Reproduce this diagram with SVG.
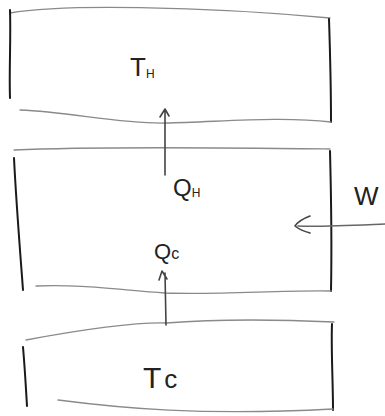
<svg xmlns="http://www.w3.org/2000/svg" width="385" height="416" viewBox="0 0 385 416">
<style>
.h{fill:none;stroke:#8a8a8a;stroke-width:1.3;stroke-linecap:round}
.v{fill:none;stroke:#1a1a1a;stroke-width:2;stroke-linecap:round}
.c{fill:none;stroke:#444;stroke-width:1.6;stroke-linecap:round;stroke-linejoin:round}
.t{font-family:"Liberation Sans",Arial,sans-serif;fill:#222;font-weight:300}
.s{font-size:12px}
</style>
<rect width="385" height="416" fill="#fff"/>
<g id="hot">
<path class="h" d="M10,13 C60,4 200,6 330,18"/>
<path class="v" d="M10,10 C11,40 9,70 10,98"/>
<path class="v" d="M329,19 C330,50 331,90 331,122"/>
<path class="h" d="M20,110 C70,112 120,124 165,123 C220,122 280,116 331,122"/>
<text class="t" x="130" y="76" font-size="26">T<tspan class="s" dy="2">H</tspan></text>
</g>
<g id="engine">
<path class="h" d="M14,150 C100,146 250,148 330,149"/>
<path class="v" d="M14,158 C16,200 20,250 23,290"/>
<path class="v" d="M330,151 C331,190 332,240 331,291"/>
<path class="h" d="M36,286 C80,284 120,290 165,293 C220,295 280,290 331,291"/>
<text class="t" x="173" y="196" font-size="24">Q<tspan class="s" dy="1">H</tspan></text>
<text class="t" x="154" y="259" font-size="22">Q<tspan font-size="16">c</tspan></text>
</g>
<g id="cold">
<path class="h" d="M26,340 C80,330 130,322 166,323 C230,318 290,320 334,322"/>
<path class="v" d="M23,347 C25,370 26,390 27,406"/>
<path class="v" d="M332,324 C331,350 333,380 333,410"/>
<path class="h" d="M58,400 C120,408 200,416 333,409"/>
<text class="t" x="143" y="388" font-size="30">T<tspan font-size="26" dx="3">c</tspan></text>
</g>
<g id="work">
<text class="t" x="354" y="205" font-size="26">W</text>
</g>
<g id="connectors">
<path class="c" d="M165,175 L165,110 M160,117 L165,109 L169,116"/>
<path class="c" d="M166,325 L165,273 M159,280 L162,271 L167,279"/>
<path class="h" d="M385,224 C360,225 320,227 298,226" style="stroke:#666;stroke-width:1.6"/>
<path class="c" d="M310,216 C302,219 297,223 295,226 C300,230 306,232 310,233"/>
</g>
</svg>
